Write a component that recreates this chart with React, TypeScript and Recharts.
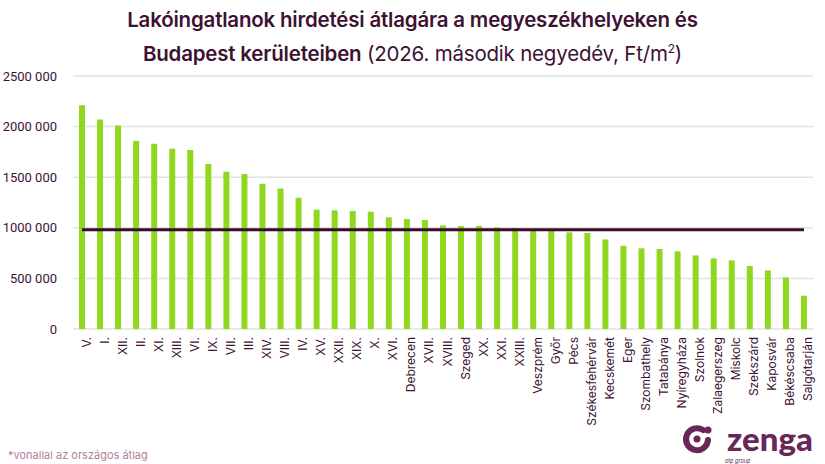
import React from "react";
import { ComposedChart, Bar, Line, XAxis, YAxis, CartesianGrid } from "recharts";

// Lakóingatlanok hirdetési átlagára, 2026 Q2, Ft/m2
const categories = [
  "V.", "I.", "XII.", "II.", "XI.", "XIII.", "VI.", "IX.", "VII.", "III.",
  "XIV.", "VIII.", "IV.", "XV.", "XXII.", "XIX.", "X.", "XVI.", "Debrecen", "XVII.",
  "XVIII.", "Szeged", "XX.", "XXI.", "XXIII.", "Veszprém", "Győr", "Pécs", "Székesfehérvár", "Kecskemét",
  "Eger", "Szombathely", "Tatabánya", "Nyíregyháza", "Szolnok", "Zalaegerszeg", "Miskolc", "Szekszárd", "Kaposvár", "Békéscsaba",
  "Salgótarján",
];

const prices = [
  2210000, 2070000, 2012000, 1858000, 1831000, 1782000, 1769000, 1630000, 1554000, 1532000,
  1436000, 1389000, 1297000, 1179000, 1172000, 1166000, 1159000, 1103000, 1087000, 1077000,
  1024000, 1018000, 1018000, 1004000, 998000, 978000, 968000, 955000, 949000, 885000,
  823000, 797000, 790000, 767000, 727000, 698000, 678000, 623000, 579000, 510000,
  329000,
];

const nationalAverage = 981000;

const yTicks = [0, 500000, 1000000, 1500000, 2000000, 2500000];

const data = categories.map((name, i) => ({
  name,
  price: prices[i],
  avg: nationalAverage,
}));

const DARK = "#3d1233";
const GREEN = "#8fd81f";

const fmt = (v: number) => (v === 0 ? "0" : `${Math.floor(v / 1000)} 000`);

function Logo() {
  return (
    <svg width={150} height={46} style={{ position: "absolute", left: 675, top: 418 }}>
      <path
        d="M 28 12 A 11 11 0 1 0 33 22"
        fill="none"
        stroke="#6a2656"
        strokeWidth={6}
        strokeLinecap="round"
      />
      <circle cx={33} cy={12} r={3.5} fill="#6a2656" />
      <circle cx={22} cy={21} r={3.5} fill="#6a2656" />
      <text
        x={52}
        y={33}
        fontFamily="Lato, Inter, sans-serif"
        fontWeight={900}
        fontSize={33}
        fill="#6a2656"
      >
        zenga
      </text>
      <text
        x={50}
        y={45}
        fontFamily="Inter, sans-serif"
        fontStyle="italic"
        fontSize={5.5}
        fill="#6a2656"
      >
        otp group
      </text>
    </svg>
  );
}

export default function App() {
  return (
    <div
      style={{
        position: "absolute",
        left: 0,
        top: 0,
        width: 825,
        height: 464,
        background: "#fff",
        fontFamily: "Inter, sans-serif",
        overflow: "hidden",
      }}
    >
      <div
        style={{
          position: "absolute",
          top: 5,
          left: 0,
          width: 825,
          textAlign: "center",
          color: DARK,
          fontSize: 20.5,
          lineHeight: "29px",
          letterSpacing: -0.2,
        }}
      >
        <div style={{ fontWeight: 600 }}>
          Lakóingatlanok hirdetési átlagára a megyeszékhelyeken és
        </div>
        <div>
          <span style={{ fontWeight: 600 }}>Budapest kerületeiben</span> (2026. második negyedév, Ft/m
          <sup style={{ fontSize: 12 }}>2</sup>)
        </div>
      </div>

      <div style={{ position: "absolute", left: 0, top: 0 }}>
        <ComposedChart
          width={825}
          height={464}
          data={data}
          margin={{ top: 76, right: 12, bottom: 0, left: 0 }}
        >
          <CartesianGrid vertical={false} stroke="#e2e2e2" strokeWidth={1.5} />
          <XAxis
            dataKey="name"
            interval={0}
            height={135}
            axisLine={false}
            tickLine={false}
            tick={{ fill: DARK, fontSize: 12, angle: -90, textAnchor: "end", dy: -4 } as any}
            tickMargin={6}
          />
          <YAxis
            width={73}
            domain={[0, 2500000]}
            ticks={yTicks}
            tickFormatter={fmt}
            axisLine={false}
            tickLine={false}
            tick={{ fill: DARK, fontSize: 13, fontFamily: "Roboto, sans-serif" }}
            tickMargin={10}
          />
          <Bar dataKey="price" fill={GREEN} barSize={6} isAnimationActive={false} />
          <Line
            dataKey="avg"
            type="linear"
            stroke="#3b0b2d"
            strokeWidth={3}
            dot={false}
            activeDot={false}
            isAnimationActive={false}
          />
        </ComposedChart>
      </div>

      <div
        style={{
          position: "absolute",
          left: 8,
          top: 448,
          fontSize: 11,
          color: "#b57fa0",
        }}
      >
        *vonallal az országos átlag
      </div>
      <Logo />
    </div>
  );
}
